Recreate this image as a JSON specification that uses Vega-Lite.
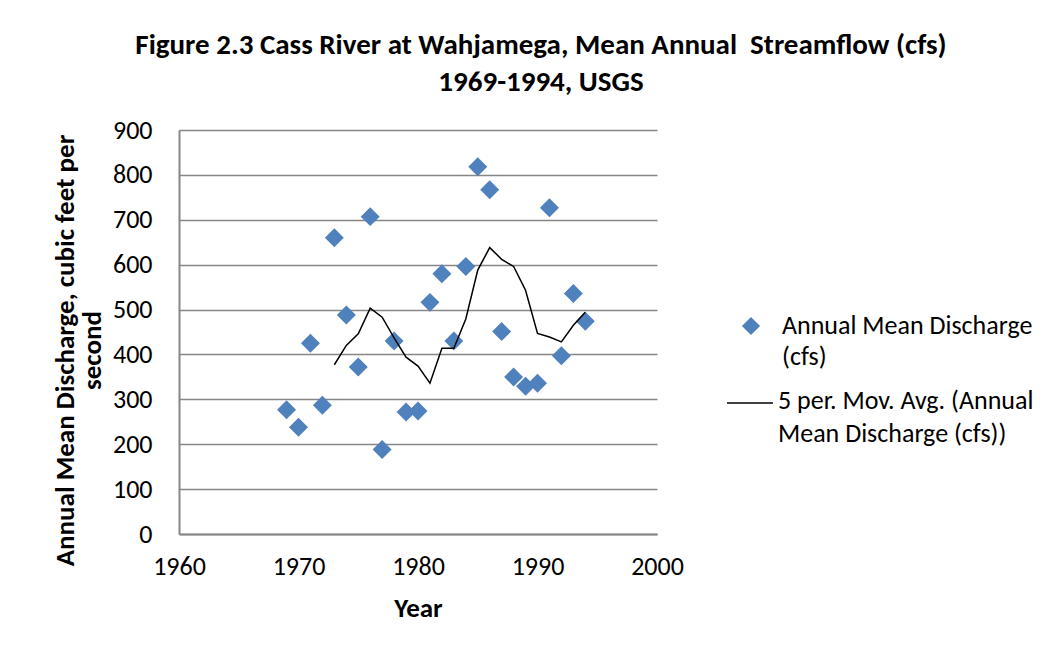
{
  "$schema": "https://vega.github.io/schema/vega-lite/v6.json",
  "autosize": "none",
  "width": 478,
  "height": 404,
  "padding": {"left": 179, "top": 130, "right": 407, "bottom": 119},
  "background": "white",
  "title": {
    "text": ["Figure 2.3 Cass River at Wahjamega, Mean Annual \u00a0Streamflow (cfs)", "1969-1994, USGS"],
    "font": "Carlito, Lato",
    "fontSize": 29,
    "fontWeight": "bold",
    "color": "black",
    "anchor": "middle",
    "frame": "group",
    "dx": 123,
    "offset": 20,
    "lineHeight": 37
  },
  "data": {
    "values": [
      {"year": 1969, "discharge": 277, "movavg": null},
      {"year": 1970, "discharge": 238, "movavg": null},
      {"year": 1971, "discharge": 425, "movavg": null},
      {"year": 1972, "discharge": 287, "movavg": null},
      {"year": 1973, "discharge": 660, "movavg": 377},
      {"year": 1974, "discharge": 488, "movavg": 420},
      {"year": 1975, "discharge": 372, "movavg": 446},
      {"year": 1976, "discharge": 707, "movavg": 503},
      {"year": 1977, "discharge": 188, "movavg": 483},
      {"year": 1978, "discharge": 430, "movavg": 437},
      {"year": 1979, "discharge": 272, "movavg": 394},
      {"year": 1980, "discharge": 274, "movavg": 374},
      {"year": 1981, "discharge": 516, "movavg": 336},
      {"year": 1982, "discharge": 580, "movavg": 414},
      {"year": 1983, "discharge": 430, "movavg": 414},
      {"year": 1984, "discharge": 596, "movavg": 479},
      {"year": 1985, "discharge": 818, "movavg": 588},
      {"year": 1986, "discharge": 767, "movavg": 638},
      {"year": 1987, "discharge": 451, "movavg": 612},
      {"year": 1988, "discharge": 350, "movavg": 596},
      {"year": 1989, "discharge": 329, "movavg": 543},
      {"year": 1990, "discharge": 336, "movavg": 447},
      {"year": 1991, "discharge": 727, "movavg": 439},
      {"year": 1992, "discharge": 397, "movavg": 428},
      {"year": 1993, "discharge": 536, "movavg": 465},
      {"year": 1994, "discharge": 474, "movavg": 494}
    ]
  },
  "encoding": {
    "x": {
      "field": "year",
      "type": "quantitative",
      "scale": {"domain": [1960, 2000], "nice": false, "zero": false},
      "axis": {
        "title": "Year",
        "values": [1960, 1970, 1980, 1990, 2000],
        "format": "d",
        "grid": false,
        "ticks": false,
        "labelFlush": false,
        "labelPadding": 19,
        "titlePadding": 16,
        "titleX": 239
      }
    }
  },
  "layer": [
    {
      "mark": {"type": "point", "filled": true, "shape": "diamond", "size": 360, "color": "#4F81BD", "opacity": 1, "strokeWidth": 0},
      "encoding": {
        "y": {
          "field": "discharge",
          "type": "quantitative",
          "scale": {"domain": [0, 900], "nice": false},
          "axis": {
            "title": ["Annual Mean Discharge, cubic feet per", "second"],
            "values": [0, 100, 200, 300, 400, 500, 600, 700, 800, 900],
            "grid": true,
            "ticks": false,
            "labelPadding": 27,
            "titleX": -100,
            "titleY": 220,
            "titleAngle": 270,
            "titleAlign": "center",
            "titleBaseline": "bottom",
            "titleLineHeight": 27
          }
        },
        "shape": {
          "datum": "pts",
          "type": "nominal",
          "scale": {"range": ["diamond"]},
          "legend": {
            "title": null,
            "orient": "none",
            "legendX": 559,
            "legendY": 183,
            "symbolType": "diamond",
            "symbolSize": 330,
            "symbolFillColor": "#4F81BD",
            "symbolStrokeWidth": 0,
            "labelOffset": 18,
            "labelExpr": "['Annual Mean Discharge', '(cfs)']",
            "encode": {"labels": {"update": {"dy": {"value": 21}, "lineHeight": {"value": 31}}}}
          }
        }
      }
    },
    {
      "mark": {"type": "line", "color": "black", "strokeWidth": 1.5},
      "encoding": {
        "y": {"field": "movavg", "type": "quantitative"},
        "color": {
          "datum": "ma",
          "type": "nominal",
          "scale": {"range": ["black"]},
          "legend": {
            "title": null,
            "orient": "none",
            "legendX": 547,
            "legendY": 249,
            "symbolType": "stroke",
            "symbolSize": 2116,
            "symbolStrokeColor": "black",
            "symbolStrokeWidth": 1.5,
            "labelOffset": 4,
            "labelExpr": "['5 per. Mov. Avg. (Annual', 'Mean Discharge (cfs))']",
            "encode": {"labels": {"update": {"dy": {"value": -2}, "lineHeight": {"value": 33}}}}
          }
        }
      }
    }
  ],
  "config": {
    "font": "Carlito, Lato",
    "view": {"stroke": null},
    "style": {"guide-label": {"lineHeight": 31}},
    "axis": {
      "labelFont": "Carlito, Lato",
      "labelFontSize": 26,
      "labelColor": "black",
      "titleFont": "Carlito, Lato",
      "titleFontSize": 27,
      "titleFontWeight": "bold",
      "titleColor": "black",
      "domainColor": "#868686",
      "domainWidth": 2,
      "gridColor": "#868686",
      "gridWidth": 1.5,
      "gridOpacity": 1
    },
    "legend": {
      "labelFont": "Carlito, Lato",
      "labelFontSize": 26,
      "labelColor": "black",
      "labelLimit": 400,
      "padding": 0
    }
  }
}
